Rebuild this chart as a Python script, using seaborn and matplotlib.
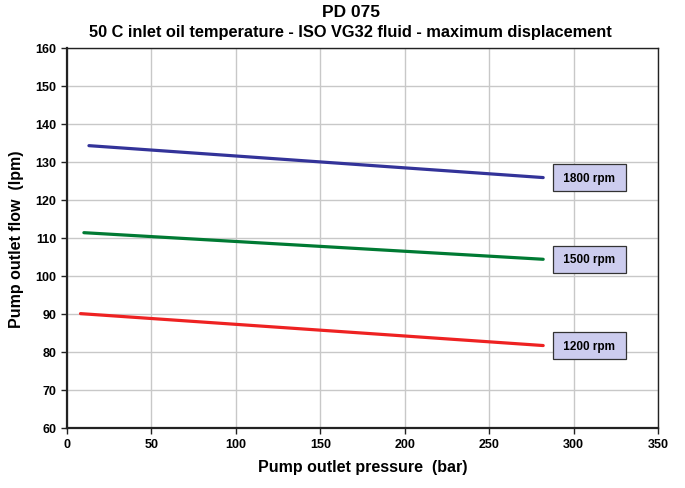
import pandas as pd
import numpy as np
import matplotlib.pyplot as plt
import seaborn as sns

sns.set_style("whitegrid")
plt.rcParams['font.family'] = ['Liberation Sans', 'DejaVu Sans']
plt.rcParams['font.weight'] = 'bold'
plt.rcParams['text.color'] = 'black'
plt.rcParams['axes.labelcolor'] = 'black'
plt.rcParams['xtick.color'] = 'black'
plt.rcParams['ytick.color'] = 'black'

pressure_start = [13, 10, 8]
pressure_end = [282, 282, 282]
flow_1800 = [134.3, 125.9]
flow_1500 = [111.4, 104.4]
flow_1200 = [90.1, 81.7]
speeds = ["1800 rpm", "1500 rpm", "1200 rpm"]
colors = ["#333399", "#007a33", "#ee2222"]

rows = []
for name, x0, x1, ys in zip(speeds, pressure_start, pressure_end, [flow_1800, flow_1500, flow_1200]):
    rows.append({"p": x0, "q": ys[0], "rpm": name})
    rows.append({"p": x1, "q": ys[1], "rpm": name})
df = pd.DataFrame(rows)

fig = plt.figure(figsize=(6.85, 4.89), dpi=100)
ax = fig.add_axes([0.0978, 0.1227, 0.8628, 0.7771])

sns.lineplot(data=df, x="p", y="q", hue="rpm", palette=colors, linewidth=2.3, legend=False, ax=ax)

for name, ys in zip(speeds, [flow_1800, flow_1500, flow_1200]):
    ax.text(292.2, ys[1], " " + name + " ", ha="left", va="center", fontsize=8.5, fontweight="bold",
            bbox=dict(boxstyle="square,pad=0.62", facecolor="#ccccee", edgecolor="#333333", linewidth=0.9))

ax.set_xlim(0, 350)
ax.set_ylim(60, 160)
ax.set_xticks(np.arange(0, 351, 50))
ax.set_yticks(np.arange(60, 161, 10))
ax.grid(True, color="#c8c8c8", linewidth=1)
for s in ax.spines.values():
    s.set_color("#222222")
    s.set_linewidth(1)
ax.spines["left"].set_linewidth(1.6)
ax.spines["bottom"].set_linewidth(1.6)
ax.tick_params(axis="both", direction="out", length=4, width=1, labelsize=9, left=True, bottom=True, color="#222222")
for lab in ax.get_xticklabels() + ax.get_yticklabels():
    lab.set_fontweight("bold")

ax.set_xlabel("Pump outlet pressure  (bar)", fontsize=11.5, fontweight="bold", labelpad=6)
ax.set_ylabel("Pump outlet flow  (lpm)", fontsize=11.5, fontweight="bold", labelpad=8)
fig.text(0.512, 0.974, "PD 075", ha="center", va="center", fontsize=12.5, fontweight="bold")
fig.text(0.512, 0.934, "50 C inlet oil temperature - ISO VG32 fluid - maximum displacement",
         ha="center", va="center", fontsize=11.8, fontweight="bold")

fig.savefig("out.png", dpi=100)
